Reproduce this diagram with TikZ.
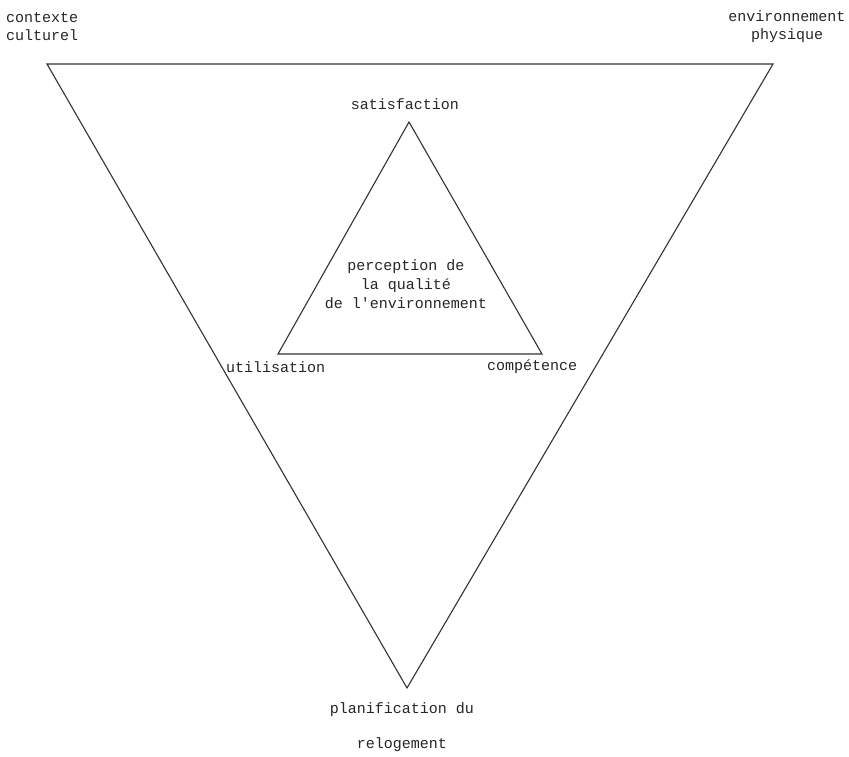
\documentclass[tikz,border=0pt]{standalone}
\usepackage{fontspec}
\setmonofont{Liberation Mono}
\begin{document}
\begin{tikzpicture}[x=1pt,y=-1pt,
  lbl/.style={font=\ttfamily\fontsize{15}{19}\selectfont, text=black!85, inner sep=0pt, align=center},
  edge/.style={draw=black!80, line width=1.1pt, line join=miter}]
\useasboundingbox (0,0) rectangle (849,757);
\fill[white] (0,0) rectangle (849,757);
% outer triangle
\coordinate (A) at (47,64);
\coordinate (B) at (773,64);
\coordinate (C) at (407,688);
% inner triangle
\coordinate (S) at (409,122);
\coordinate (U) at (278,354);
\coordinate (K) at (542,354);
\draw[edge] (A) -- (B) -- (C) -- cycle;
\draw[edge] (S) -- (K) -- (U) -- cycle;
% labels
\node[lbl, anchor=west] (cc) at (6,27) {contexte\\[-1pt]culturel};
\node[lbl] (ep) at (787,27) {environnement\\[-1pt]physique};
\node[lbl] (sat) at (405,104) {satisfaction};
\node[lbl] (pq) at (406,284) {perception de\\la qualité\\de l'environnement};
\node[lbl, anchor=west] (ut) at (226,367) {utilisation};
\node[lbl, anchor=west] (co) at (487,367) {compétence};
\node[lbl] (pl) at (402,710) {planification du};
\node[lbl] (re) at (402,745) {relogement};
\end{tikzpicture}
\end{document}
